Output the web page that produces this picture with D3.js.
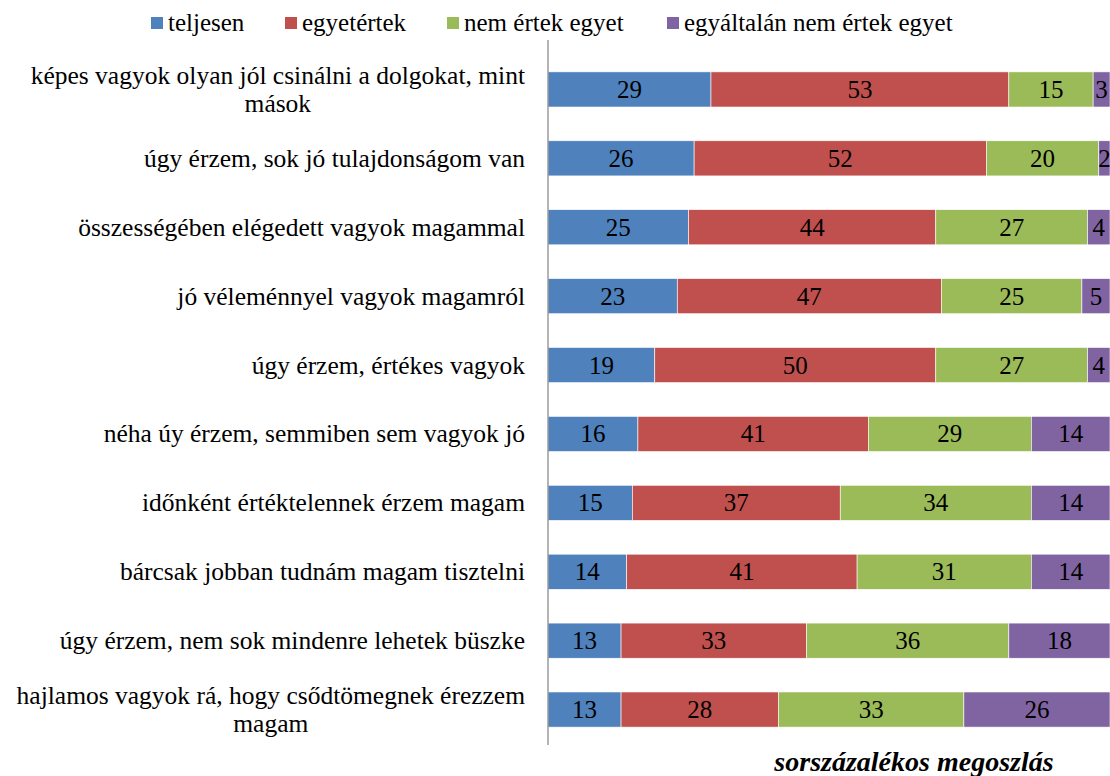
<!DOCTYPE html>
<html>
<head>
<meta charset="utf-8">
<script src="https://d3js.org/d3.v7.min.js"></script>
</head>
<body style="margin:0; background:#fff">
<svg id="chart"></svg>
<script>
// statements, top to bottom
var statements = [
  ["képes vagyok olyan jól csinálni a dolgokat, mint", "mások"],
  ["úgy érzem, sok jó tulajdonságom van"],
  ["összességében elégedett vagyok magammal"],
  ["jó véleménnyel vagyok magamról"],
  ["úgy érzem, értékes vagyok"],
  ["néha úy érzem, semmiben sem vagyok jó"],
  ["időnként értéktelennek érzem magam"],
  ["bárcsak jobban tudnám magam tisztelni"],
  ["úgy érzem, nem sok mindenre lehetek büszke"],
  ["hajlamos vagyok rá, hogy csődtömegnek érezzem", "magam"]
];
var seriesNames = ["teljesen", "egyetértek", "nem értek egyet", "egyáltalán nem értek egyet"];
var teljesen   = [29, 26, 25, 23, 19, 16, 15, 14, 13, 13];
var egyetertek = [53, 52, 44, 47, 50, 41, 37, 41, 33, 28];
var nemErtek   = [15, 20, 27, 25, 27, 29, 34, 31, 36, 33];
var egyaltalan = [3, 2, 4, 5, 4, 14, 14, 14, 18, 26];
var colors = ["#4F81BD", "#C0504D", "#9BBB59", "#8064A2"];
var axisTitle = "sorszázalékos megoszlás";

var FONT = "Liberation Serif";
var W = 1110, H = 776;
var svg = d3.select("#chart").attr("width", W).attr("height", H);

var rows = statements.map(function(s, i) {
  return { key: i, t: teljesen[i], e: egyetertek[i], n: nemErtek[i], a: egyaltalan[i] };
});
var stack = d3.stack().keys(["t", "e", "n", "a"])(rows);

var x = d3.scaleLinear().domain([0, 100]).range([548, 1110]);
var y = d3.scaleBand().domain(d3.range(statements.length))
  .range([55, 744]).paddingInner(0.49).paddingOuter(0.245);

var layers = svg.selectAll("g.layer").data(stack).enter().append("g")
  .attr("class", "layer")
  .attr("fill", function(d, i) { return colors[i]; });

layers.selectAll("rect").data(function(d) { return d; }).enter().append("rect")
  .attr("x", function(d) { return x(d[0]); })
  .attr("width", function(d) { return x(d[1]) - x(d[0]); })
  .attr("y", function(d) { return y(d.data.key); })
  .attr("height", y.bandwidth())
  .attr("stroke", "#fff")
  .attr("stroke-width", 0.6);

layers.selectAll("text").data(function(d) { return d; }).enter().append("text")
  .attr("x", function(d) { return (x(d[0]) + x(d[1])) / 2; })
  .attr("y", function(d) { return y(d.data.key) + y.bandwidth() / 2 + 8.5; })
  .attr("text-anchor", "middle")
  .style("font-family", FONT)
  .style("font-size", "25px")
  .attr("fill", "#000")
  .text(function(d) { return d[1] - d[0]; });

// vertical axis line
svg.append("line")
  .attr("x1", 548).attr("x2", 548)
  .attr("y1", 40).attr("y2", 745)
  .attr("stroke", "#8c8c8c").attr("stroke-width", 1.3);

// category labels: block right-aligned, lines centred inside block
statements.forEach(function(lines, i) {
  var g = svg.append("g");
  var cy = y(i) + y.bandwidth() / 2;
  var texts = lines.map(function(l, j) {
    return g.append("text")
      .style("font-family", FONT)
      .style("font-size", "25.5px")
      .attr("text-anchor", "middle")
      .attr("y", cy + 8.5 + (j - (lines.length - 1) / 2) * 28)
      .text(l);
  });
  var maxW = d3.max(texts, function(t) { return t.node().getComputedTextLength(); });
  texts.forEach(function(t) { t.attr("x", 525 - maxW / 2); });
});

// legend
var legX = [151, 285, 447, 667];
seriesNames.forEach(function(name, i) {
  svg.append("rect").attr("x", legX[i]).attr("y", 17).attr("width", 12).attr("height", 12).attr("fill", colors[i]);
  svg.append("text").attr("x", legX[i] + 17).attr("y", 31)
    .style("font-family", FONT).style("font-size", "25px").text(name);
});

// axis title
svg.append("text")
  .attr("x", 914).attr("y", 771)
  .attr("text-anchor", "middle")
  .style("font-family", FONT)
  .style("font-size", "28px")
  .style("font-weight", "bold")
  .style("font-style", "italic")
  .text(axisTitle);
</script>
</body>
</html>
